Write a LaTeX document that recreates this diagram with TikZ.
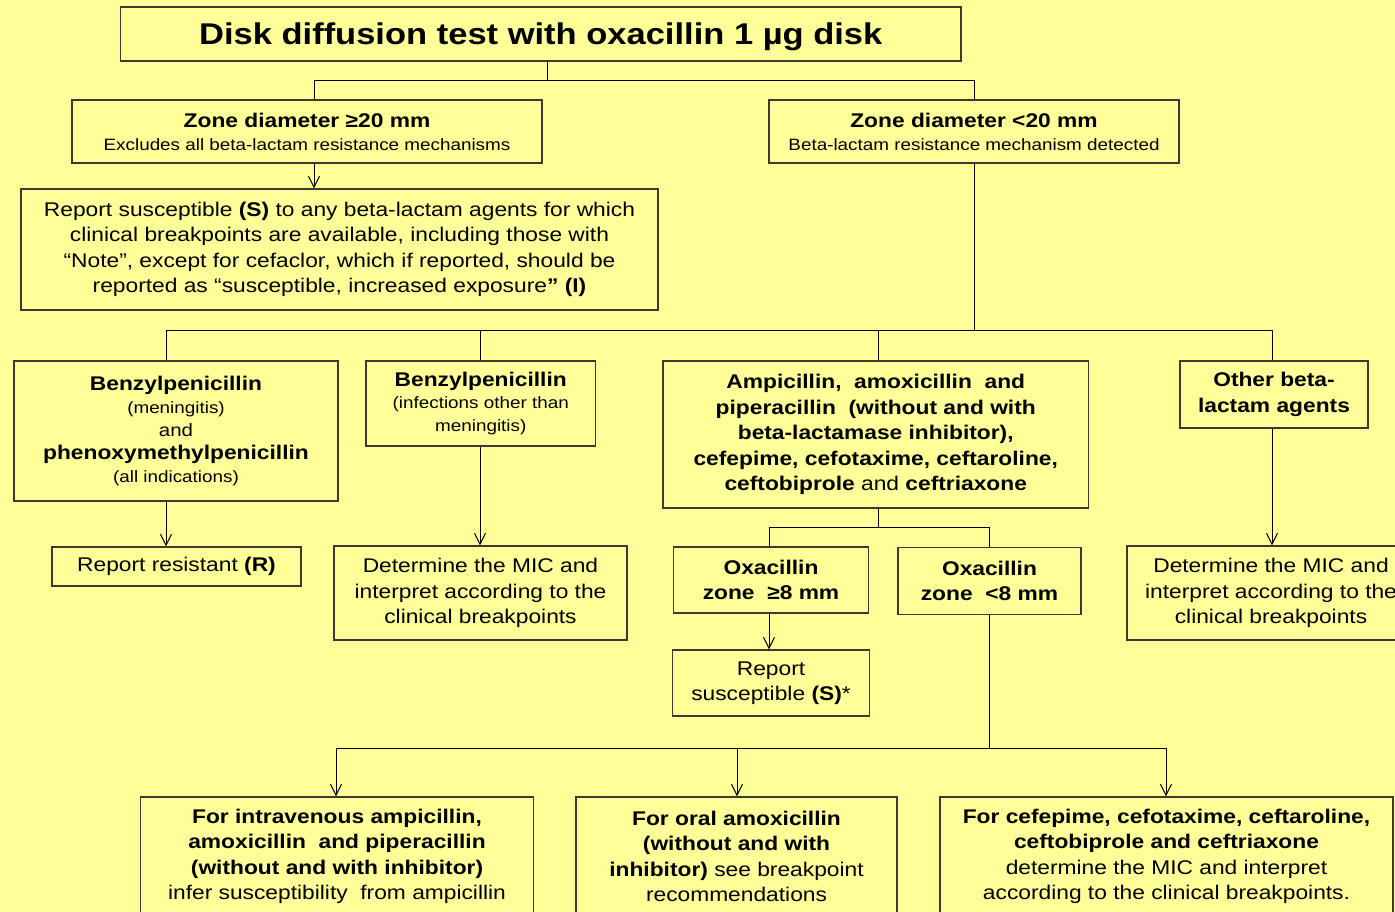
\documentclass[tikz,border=0pt]{standalone}
\usepackage{fontspec}
\setmainfont{Liberation Sans}[FakeStretch=1.15]
\usepackage{tikz}
\usetikzlibrary{arrows.meta}

\definecolor{bgyellow}{HTML}{FFFF99}
\definecolor{boxline}{HTML}{3A3A30}

\newcommand\titlesz{\fontsize{30}{36}\selectfont\bfseries}
\newcommand\bodysz{\fontsize{19.8}{25.5}\selectfont}
\newcommand\smallsz{\fontsize{16.4}{21}\selectfont}

\tikzset{
  box/.style={draw=boxline, line width=1.3pt, fill=bgyellow, inner sep=0pt,
    align=center, font=\bodysz},
  tightbox/.style={box, font=\fontsize{19.8}{23}\selectfont},
  link/.style={draw=black, line width=1pt},
  arr/.style={link, -{Straight Barb[length=11pt,width=11pt]}},
}

\begin{document}
\begin{tikzpicture}[x=1pt, y=-1pt]
    \useasboundingbox (0,0) rectangle (1395,912);
    \clip (0,0) rectangle (1395,912);
    \fill[bgyellow] (0,0) rectangle (1395,912);

    % boxes
    \node[box, font=\titlesz, text depth=0pt, minimum width=840.5, minimum height=54] (title) at (540.75,34)
        {Disk diffusion test with oxacillin 1 µg disk};

    \node[tightbox, minimum width=470, minimum height=63] (zgeq) at (307,131.5)
        {\textbf{Zone diameter ≥20 mm}\\ {\smallsz Excludes all beta-lactam resistance mechanisms}};
    \node[tightbox, minimum width=410, minimum height=63] (zlt) at (974,131.5)
        {\textbf{Zone diameter <20 mm}\\ {\smallsz Beta-lactam resistance mechanism detected}};

    \node[box, minimum width=637, minimum height=121] (reps) at (339.5,249.5)
        {Report susceptible \textbf{(S)} to any beta-lactam agents for which\\
         clinical breakpoints are available, including those with\\
         “Note”, except for cefaclor, which if reported, should be\\
         reported as “susceptible, increased exposure\textbf{” (I)}};

    \node[tightbox, minimum width=324, minimum height=140] (benzmen) at (176,431)
        {\textbf{Benzylpenicillin}\\ {\smallsz (meningitis)}\\ {\fontsize{17.8}{21}\selectfont and}\\
         \textbf{phenoxymethylpenicillin}\\ {\smallsz (all indications)}};
    \node[box, font=\fontsize{19.8}{22.2}\selectfont, minimum width=229.5, minimum height=85] (benzoth) at (480.75,403.5)
        {\textbf{Benzylpenicillin}\\ {\smallsz (infections other than}\\ {\smallsz meningitis)}};
    \node[box, minimum width=425.5, minimum height=147] (ampi) at (875.75,434.5)
        {\textbf{Ampicillin, \ amoxicillin \ and}\\ \textbf{piperacillin \ (without and with}\\
         \textbf{beta-lactamase inhibitor),}\\ \textbf{cefepime, cefotaxime, ceftaroline,}\\
         \textbf{ceftobiprole} and \textbf{ceftriaxone}};
    \node[box, minimum width=188, minimum height=67] (other) at (1274,394.5)
        {\textbf{Other beta-}\\ \textbf{lactam agents}};

    \node[box, minimum width=249, minimum height=39] (repr) at (176.5,566.5)
        {Report resistant \textbf{(R)}};
    \node[box, minimum width=293, minimum height=94] (mic1) at (480.5,593)
        {Determine the MIC and\\ interpret according to the\\ clinical breakpoints};
    \node[box, minimum width=194.5, minimum height=66] (oxge) at (771,580)
        {\textbf{Oxacillin}\\ \textbf{zone \ ≥8 mm}};
    \node[box, minimum width=183, minimum height=67] (oxlt) at (989.5,581)
        {\textbf{Oxacillin}\\ \textbf{zone \ <8 mm}};
    \node[box, minimum width=196.5, minimum height=66] (repss) at (771,683)
        {Report\\ susceptible \textbf{(S)}*};
    \node[box, minimum width=288, minimum height=94] (mic2) at (1271,593)
        {Determine the MIC and\\ interpret according to the\\ clinical breakpoints};

    \node[box, minimum width=393, minimum height=119] (iv) at (337,856.5)
        {\textbf{For intravenous ampicillin,}\\ \textbf{amoxicillin \ and piperacillin}\\
         \textbf{(without and with inhibitor)}\\ infer susceptibility \ from ampicillin};
    \node[box, minimum width=321, minimum height=119] (oral) at (736.5,856.5)
        {\textbf{For oral amoxicillin}\\ \textbf{(without and with}\\
         \textbf{inhibitor)} see breakpoint\\ recommendations};
    \node[box, minimum width=453, minimum height=119] (ceph) at (1166.5,856.5)
        {\textbf{For cefepime, cefotaxime, ceftaroline,}\\ \textbf{ceftobiprole and ceftriaxone}\\
         determine the MIC and interpret\\ according to the clinical breakpoints.};

    % branch points
    \coordinate (tjoin) at (547,81);
    \coordinate (lzone) at (314,81);
    \coordinate (b1) at (166,330);
    \coordinate (b2) at (480,330);
    \coordinate (b3) at (878.5,330);
    \coordinate (b4) at (1272,330);
    \coordinate (o1) at (769,527);
    \coordinate (o2) at (989,527);
    \coordinate (c1) at (336,748);
    \coordinate (c2) at (737,748);
    \coordinate (c3) at (1166,748);

    % connectors
    \draw[link] (tjoin |- title.south) -- (tjoin);
    \draw[link] (lzone |- zgeq.north) -- (lzone) -| (zlt.north);
    \draw[arr] (lzone |- zgeq.south) -- (lzone |- reps.north);

    \draw[link] (zlt.south) -- (zlt.south |- b1);
    \draw[link] (b1) -- (b4);
    \draw[link] (b1) -- (b1 |- benzmen.north);
    \draw[link] (b2) -- (b2 |- benzoth.north);
    \draw[link] (b3) -- (b3 |- ampi.north);
    \draw[link] (b4) -- (b4 |- other.north);

    \draw[arr] (b1 |- benzmen.south) -- (b1 |- repr.north);
    \draw[arr] (b2 |- benzoth.south) -- (b2 |- mic1.north);
    \draw[arr] (b4 |- other.south) -- (b4 |- mic2.north);

    \draw[link] (b3 |- ampi.south) -- (b3 |- o1);
    \draw[link] (o1) -- (o2);
    \draw[link] (o1) -- (o1 |- oxge.north);
    \draw[link] (o2) -- (o2 |- oxlt.north);
    \draw[arr] (o1 |- oxge.south) -- (o1 |- repss.north);

    \draw[link] (o2 |- oxlt.south) -- (o2 |- c1);
    \draw[link] (c1) -- (c3);
    \draw[arr] (c1) -- (c1 |- iv.north);
    \draw[arr] (c2) -- (c2 |- oral.north);
    \draw[arr] (c3) -- (c3 |- ceph.north);
\end{tikzpicture}
\end{document}
